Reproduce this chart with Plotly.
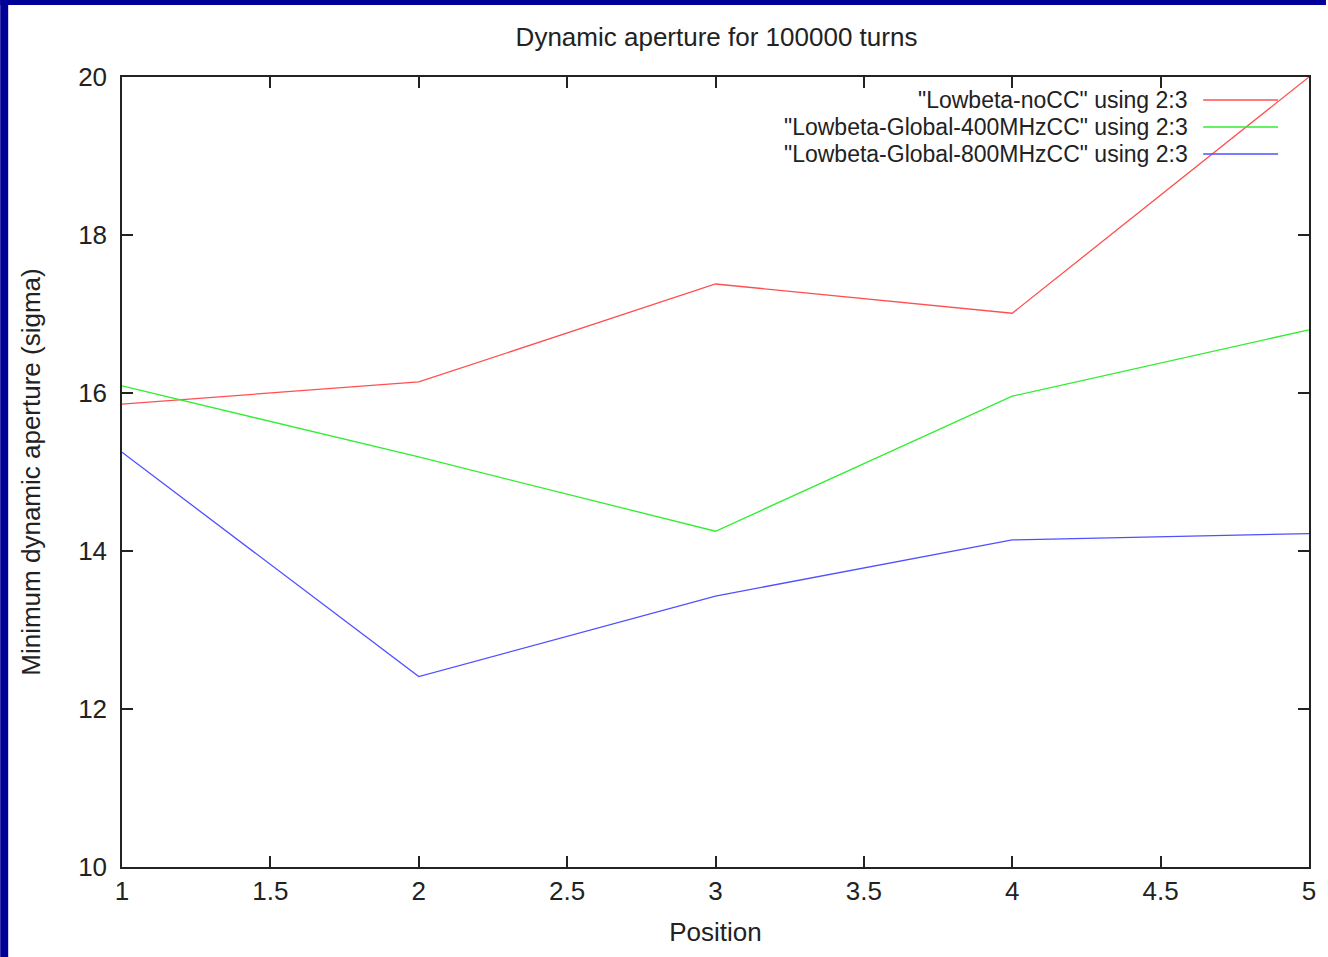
import plotly.graph_objects as go

positions = [1, 2, 3, 4, 5]
nocc = [15.86, 16.14, 17.38, 17.01, 20.0]
global400 = [16.09, 15.19, 14.25, 15.96, 16.80]
global800 = [15.25, 12.41, 13.43, 14.14, 14.22]

series_names = [
    '"Lowbeta-noCC" using 2:3',
    '"Lowbeta-Global-400MHzCC" using 2:3',
    '"Lowbeta-Global-800MHzCC" using 2:3',
]
series_colors = ["#ff5050", "#30ee30", "#5050ff"]
x_ticks = [1, 1.5, 2, 2.5, 3, 3.5, 4, 4.5, 5]
y_ticks = [10, 12, 14, 16, 18, 20]

W, H = 1328, 957
L, R, T, B = 122, 17, 77, 90
pw, ph = W - L - R, H - T - B

def px(xp):
    return (xp - L) / pw

def py(yp):
    return (H - B - yp) / ph

fig = go.Figure()
for name, ys, col in zip(series_names, [nocc, global400, global800], series_colors):
    fig.add_trace(go.Scatter(x=positions, y=ys, mode="lines", name=name,
                             line=dict(color=col, width=1.3), showlegend=False))

font = dict(family="Liberation Sans, Arial, sans-serif", size=26, color="#222222")
tfont = dict(family="Liberation Sans, Arial, sans-serif", size=26, color="#222222")
lfont = dict(family="Liberation Sans, Arial, sans-serif", size=23, color="#222222")

shapes = [
    dict(type="rect", xref="paper", yref="paper", x0=px(0), x1=px(8), y0=py(H), y1=py(0),
         fillcolor="#000099", line=dict(width=0), layer="below"),
    dict(type="rect", xref="paper", yref="paper", x0=px(0), x1=px(W), y0=py(5), y1=py(0),
         fillcolor="#000099", line=dict(width=0), layer="below"),
]
annotations = []
legend_rows = [100, 127, 154]
for name, col, yr in zip(series_names, series_colors, legend_rows):
    annotations.append(dict(xref="paper", yref="paper", x=px(1192), y=py(yr), text=name,
                            showarrow=False, xanchor="right", yanchor="middle", font=lfont))
    shapes.append(dict(type="line", xref="paper", yref="paper", x0=px(1205), x1=px(1280),
                       y0=py(yr), y1=py(yr), line=dict(color=col, width=1.5)))

fig.update_layout(
    width=W, height=H,
    margin=dict(l=L, r=R, t=T, b=B),
    paper_bgcolor="white", plot_bgcolor="white",
    font=font,
    title=dict(text="Dynamic aperture for 100000 turns", x=0.5 * (L + W - R) / W, xanchor="center",
               y=1 - 37 / H, yanchor="middle", font=font),
    xaxis=dict(range=[1, 5], tickvals=x_ticks, ticktext=[f"{v:g}" for v in x_ticks],
               showgrid=False, zeroline=False, showline=True, linecolor="#222222", linewidth=1.5,
               mirror="ticks", ticks="inside", ticklen=11, tickcolor="#222222", tickwidth=1.5,
               title=dict(text="Position", standoff=18, font=tfont), tickfont=font),
    yaxis=dict(range=[10, 20], tickvals=y_ticks,
               showgrid=False, zeroline=False, showline=True, linecolor="#222222", linewidth=1.5,
               mirror="ticks", ticks="inside", ticklen=11, tickcolor="#222222", tickwidth=1.5,
               ticklabelstandoff=8,
               title=dict(text="Minimum dynamic aperture (sigma)", standoff=30, font=tfont),
               tickfont=font),
    shapes=shapes,
    annotations=annotations,
)

fig.write_html("out.html", config={"displayModeBar": False},
               post_script="document.body.style.margin='0';document.body.style.padding='0';")
